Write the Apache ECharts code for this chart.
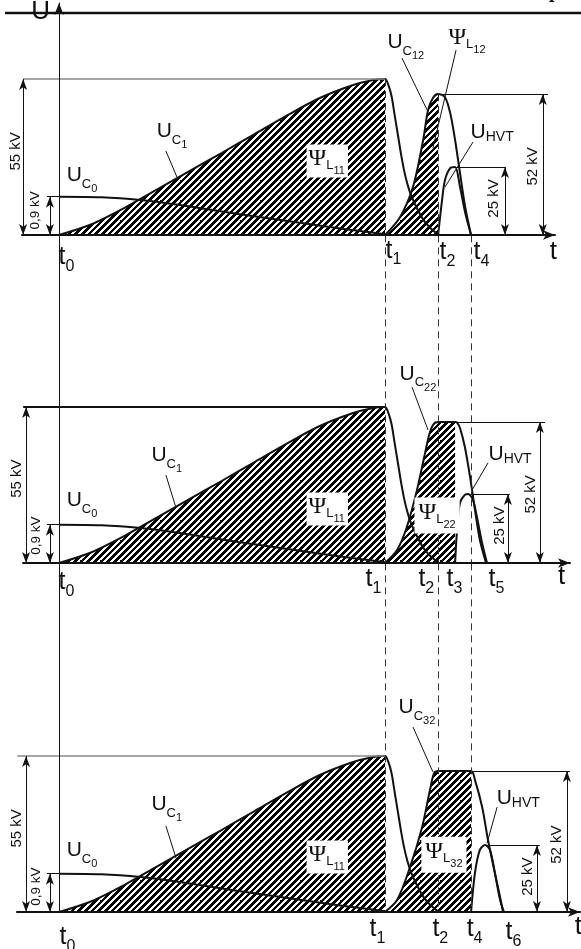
<!DOCTYPE html>
<html>
<head>
<meta charset="utf-8">
<script src="https://cdn.jsdelivr.net/npm/echarts@6/dist/echarts.min.js"></script>
<style>
  html, body { margin: 0; padding: 0; background: #fff; }
  #chart { width: 581px; height: 949px; }
</style>
</head>
<body>
<div id="chart"></div>
<script>
// time axis: t0 = 0, t1 = 10 ; voltage in drawing units (charge level 55 kV = 55)
const uC0 = [[0, 13.5], [1.3, 13.3], [2.5, 12.3], [3.7, 10.6], [4.3, 9.5], [5.5, 7.4], [6.8, 5.3], [8.3, 2.8], [9.3, 1.3], [10, 0.3]];
const uC1Rise = [[0, 0], [1, 3.8], [2, 9.5], [3, 16], [4, 22.5], [5, 29], [6, 35.6], [7, 42.2], [8, 48.3], [9, 52.8], [9.6, 54.6], [10, 55]];
const uC1Fall = [[10, 55], [10.1, 53], [10.2, 49], [10.3, 42], [10.4, 35], [10.5, 28], [10.6, 22], [10.7, 17.5], [10.8, 14], [11, 9], [11.2, 5], [11.4, 2.4], [11.65, 0]];
const uC12 = [[10, 0], [10.46, 6.3], [10.86, 17], [11.17, 33.5], [11.32, 44], [11.47, 48.3], [11.63, 49.7], [11.84, 48.6], [12, 43], [12.15, 33.5], [12.3, 21.9], [12.46, 9.9], [12.64, 0]];
const uHvt1 = [[11.63, 0], [11.75, 12.3], [11.84, 19.4], [12, 23.6], [12.15, 24], [12.3, 17], [12.46, 7.8], [12.64, 0]];
const uC22 = [[10, 0], [10.37, 4.6], [10.67, 12.7], [10.98, 25.7], [11.23, 38.8], [11.38, 46.2], [11.53, 49.4], [11.7, 49.7], [12.15, 49.7], [12.21, 49.5], [12.3, 47.6], [12.45, 40.9], [12.61, 30.3], [12.76, 18.7], [12.91, 8.1], [13.1, 0]];
const uHvt2 = [[12.15, 0], [12.21, 11.6], [12.3, 21.2], [12.45, 24], [12.55, 24.3], [12.7, 22.2], [12.82, 16.2], [12.98, 7], [13.13, 0]];
const uC32 = [[10, 0], [10.37, 4.2], [10.77, 15.9], [11.14, 30], [11.38, 43], [11.53, 49.4], [11.7, 49.7], [12.64, 49.7], [12.76, 46.5], [12.98, 37], [13.16, 25.4], [13.37, 13.8], [13.53, 5.3], [13.62, 0]];
const uHvt3 = [[12.64, 0], [12.76, 13.8], [12.91, 21.9], [13.07, 23.6], [13.22, 21.9], [13.37, 13.8], [13.53, 4.2], [13.65, 0]];

const T1 = 10;
const guideTimes = [10, 11.63, 12.64];      // dashed guides t1, t2, t4
const hatchEnds = [11.63, 12.15, 12.64];    // right edge of second flux area per panel
const chargeLevel = 55;

// page layout (pixels)
const X0 = 59, PX_T = 32.6, PX_U = 2.836;
const panels = [
  { left: 22, right: 555, top: 3, axis: 235 },
  { left: 23, right: 570, top: 235, axis: 563 },
  { left: 17, right: 580, top: 563, axis: 912 }
];

const FN = "'Liberation Sans','Arial',sans-serif";
const FS = "'Liberation Serif','DejaVu Serif',serif";
const INK = '#111';

const rich = {
  U: { fontFamily: FN, fontSize: 21, height: 22, verticalAlign: 'top', color: INK },
  c: { fontFamily: FN, fontSize: 13, height: 13, verticalAlign: 'top', padding: [13, 0, 0, 0], color: INK },
  n: { fontFamily: FN, fontSize: 11, height: 11, verticalAlign: 'top', padding: [19, 0, 0, 0], color: INK },
  h: { fontFamily: FN, fontSize: 14, height: 14, verticalAlign: 'top', padding: [9, 0, 0, 0], color: INK },
  P: { fontFamily: FS, fontSize: 24, height: 24, verticalAlign: 'top', color: INK },
  l: { fontFamily: FN, fontSize: 13, height: 13, verticalAlign: 'top', padding: [12, 0, 0, 0], color: INK },
  m: { fontFamily: FN, fontSize: 11, height: 11, verticalAlign: 'top', padding: [19, 0, 0, 0], color: INK },
  T: { fontFamily: FN, fontSize: 25, height: 26, verticalAlign: 'top', color: INK },
  k: { fontFamily: FN, fontSize: 16, height: 16, verticalAlign: 'top', padding: [14, 0, 0, 0], color: INK }
};

// diagonal hatch
const stripes = document.createElement('canvas');
stripes.width = 20; stripes.height = 20;
(function () {
  const ctx = stripes.getContext('2d');
  const img = ctx.createImageData(20, 20);
  for (let y = 0; y < 20; y++) {
    for (let x = 0; x < 20; x++) {
      const v = ((x + y) % (20 / 3)) < 3.9 ? 0 : 255;
      const i = (y * 20 + x) * 4;
      img.data[i] = img.data[i + 1] = img.data[i + 2] = v;
      img.data[i + 3] = 255;
    }
  }
  ctx.putImageData(img, 0, 0);
})();

function peak(arr) {
  let best = arr[0];
  arr.forEach(p => { if (p[1] >= best[1]) best = p; });
  return best;
}

function curve(gi, data) {
  return {
    type: 'line', xAxisIndex: gi, yAxisIndex: gi, data,
    smooth: 0.3, symbol: 'none', silent: true, z: 3,
    lineStyle: { color: INK, width: 2 }
  };
}

function hatch(gi, data, end) {
  return {
    type: 'line', xAxisIndex: gi, yAxisIndex: gi,
    data: data.filter(p => p[0] <= end + 1e-9),
    smooth: 0.3, symbol: 'none', silent: true, z: 1,
    lineStyle: { width: 0 },
    areaStyle: { color: { image: stripes, repeat: 'repeat' }, opacity: 1 }
  };
}

function txt(t, u, text, extra) {
  return {
    value: [t, u],
    label: Object.assign({
      show: true, formatter: text, position: [0, 0], align: 'left', verticalAlign: 'top', rich, color: INK, opacity: 1
    }, extra || {})
  };
}
function vtxt(t, u, text, size) {
  return txt(t, u, text, { rotate: 90, align: 'center', verticalAlign: 'middle', fontFamily: FN, fontSize: size || 15 });
}
function ctxt(t, u, text) {
  return txt(t, u, text, { align: 'center', verticalAlign: 'middle', fontFamily: FN, fontSize: 26 });
}
const boxed = { backgroundColor: '#fff', padding: [2, 3, 1, 2] };

const solid = { color: INK, width: 1, type: 'solid' };
const grey = { color: '#888', width: 1.5, type: 'solid' };
const heavy = { color: INK, width: 2, type: 'solid' };
const dashed = { color: '#333', width: 1, type: [7, 5] };

function seg(a, b, style, arrows) {
  const s = arrows ? 'arrow' : 'none';
  return [
    { coord: a, symbol: s, symbolSize: [6, 11], lineStyle: style },
    { coord: b, symbol: s, symbolSize: [6, 11] }
  ];
}

function labelSeries(gi, items, lines) {
  return {
    type: 'scatter', xAxisIndex: gi, yAxisIndex: gi, data: items,
    symbolSize: 1, itemStyle: { color: 'rgba(0,0,0,0)', opacity: 1 }, clip: false, silent: true, z: 10,
    markLine: {
      silent: true, symbol: ['none', 'none'], label: { show: false },
      emphasis: { disabled: true }, animation: false, data: lines
    }
  };
}

const uC1 = uC1Rise.concat(uC1Fall.slice(1));
const startLevel = uC0[0][1];

const secondCurves = [uC12, uC22, uC32];
const hvtCurves = [uHvt1, uHvt2, uHvt3];
const topStyles = [grey, heavy, grey];

// dimension positions (time units) per panel
const dimX = [
  { a55: -1.1, a09: -0.28, l09: -0.37, top0: -1.1, l52: 15.0, a52: 14.84, l25: 13.71, a25: 13.68 },
  { a55: -1.01, a09: -0.28, l09: -0.37, top0: -1.1, l52: 14.91, a52: 14.75, l25: 13.83, a25: 13.77 },
  { a55: -1.01, a09: -0.28, l09: -0.37, top0: -1.28, l52: 15.67, a52: 15.58, l25: 14.75, a25: 14.66 }
];

const texts = [
  [
    ctxt(-0.55, 78.5, 'U'), ctxt(15.18, -6, 't'),
    txt(0, -3.5, '{T|t}{k|0}'), txt(10.03, -1.1, '{T|t}{k|1}'),
    txt(11.69, -1.8, '{T|t}{k|2}'), txt(12.73, -1.8, '{T|t}{k|4}'),
    txt(3.01, 40.2, '{U|U}{c|C}{n|1}'), txt(0.25, 24.7, '{U|U}{c|C}{n|0}'),
    txt(7.61, 31.7, '{P|Ψ}{l|L}{m|11}', boxed),
    txt(10.09, 71.6, '{U|U}{c|C}{n|12}'), txt(11.96, 73.7, '{P|Ψ}{l|L}{m|12}'),
    txt(12.64, 39.8, '{U|U}{h|HVT}'),
    vtxt(-1.32, 29.3, '55 kV'), vtxt(-0.71, 8.5, '0,9 kV', 13.5),
    vtxt(14.54, 24, '52 kV'), vtxt(13.34, 12.7, '25 kV')
  ],
  [
    txt(0, -2.5, '{T|t}{k|0}'), txt(9.42, -1.4, '{T|t}{k|1}'),
    txt(11.04, -1.4, '{T|t}{k|2}'), txt(11.9, -1.4, '{T|t}{k|3}'),
    txt(13.19, -1.4, '{T|t}{k|5}'), ctxt(15.43, -4.9, 't'),
    txt(2.85, 41.6, '{U|U}{c|C}{n|1}'), txt(0.25, 25.7, '{U|U}{c|C}{n|0}'),
    txt(7.61, 24.7, '{P|Ψ}{l|L}{m|11}', boxed),
    txt(10.46, 70.2, '{U|U}{c|C}{n|22}'),
    txt(10.92, 22.9, '{P|Ψ}{l|L}{m|22}', { backgroundColor: '#fff', padding: [3, 4, 3, 4] }),
    txt(13.19, 42, '{U|U}{h|HVT}'),
    vtxt(-1.29, 29.6, '55 kV'), vtxt(-0.67, 9.5, '0,9 kV', 13.5),
    vtxt(14.48, 24, '52 kV'), vtxt(13.53, 13, '25 kV')
  ],
  [
    txt(0.03, -4.6, '{T|t}{k|0}'), txt(9.54, -1.8, '{T|t}{k|1}'),
    txt(11.47, -1.8, '{T|t}{k|2}'), txt(12.52, -1.8, '{T|t}{k|4}'),
    txt(13.71, -2.8, '{T|t}{k|6}'), ctxt(15.95, -5.3, 't'),
    txt(2.85, 41.6, '{U|U}{c|C}{n|1}'), txt(0.25, 25.4, '{U|U}{c|C}{n|0}'),
    txt(7.61, 25, '{P|Ψ}{l|L}{m|11}', boxed),
    txt(10.43, 75.8, '{U|U}{c|C}{n|32}'),
    txt(11.13, 26.4, '{P|Ψ}{l|L}{m|32}', { backgroundColor: '#fff', padding: [3, 4, 3, 4] }),
    txt(13.44, 44, '{U|U}{h|HVT}'),
    vtxt(-1.29, 29.3, '55 kV'), vtxt(-0.67, 8.8, '0,9 kV', 13.5),
    vtxt(15.28, 23.6, '52 kV'), vtxt(14.39, 12.3, '25 kV')
  ]
];

const leaders = [
  [[[3.28, 29.6], [3.62, 20.4]], [[10.52, 62.4], [11.29, 44.1]], [[12.18, 65.2], [11.47, 30.7]], [[12.7, 32.8], [11.84, 16.9]]],
  [[[3.28, 31], [3.59, 19.4]], [[10.83, 62], [11.32, 46.9]], [[13.16, 35.3], [12.67, 25.7]]],
  [[[3.28, 30.3], [3.59, 19]], [[10.86, 65.2], [11.47, 49.4]], [[13.44, 37], [13.13, 24.3]]]
];

const series = [];
panels.forEach((p, gi) => {
  const second = secondCurves[gi], hvt = hvtCurves[gi];
  const pk = peak(second), hp = peak(hvt);
  const d = dimX[gi];
  const ymax = (p.axis - p.top) / PX_U * 0.999;

  series.push(hatch(gi, uC1Rise, T1));
  series.push(hatch(gi, second, hatchEnds[gi]));
  series.push(curve(gi, uC0), curve(gi, uC1), curve(gi, second), curve(gi, hvt));

  const lines = [];
  lines.push(seg([d.top0, chargeLevel], [T1, chargeLevel], topStyles[gi]));
  lines.push(seg([d.a55, 0], [d.a55, chargeLevel], solid, true));
  lines.push(seg([d.l09, startLevel], [0, startLevel], solid));
  lines.push(seg([d.a09, 0], [d.a09, startLevel], solid, true));
  lines.push(seg([pk[0], pk[1]], [d.l52, pk[1]], solid));
  lines.push(seg([d.a52, 0], [d.a52, pk[1]], solid, true));
  lines.push(seg([hp[0], hp[1]], [d.l25, hp[1]], solid));
  lines.push(seg([d.a25, 0], [d.a25, hp[1]], solid, true));
  leaders[gi].forEach(l => lines.push(seg(l[0], l[1], solid)));
  if (gi === 0) {
    lines.push(seg([guideTimes[0], chargeLevel], [guideTimes[0], 0], dashed));
    lines.push(seg([guideTimes[1], pk[1]], [guideTimes[1], 0], dashed));
  } else {
    guideTimes.forEach(t => lines.push(seg([t, ymax], [t, 0], dashed)));
  }
  series.push(labelSeries(gi, texts[gi], lines));
});

const chart = echarts.init(document.getElementById('chart'), null, { renderer: 'canvas' });
chart.setOption({
  animation: false,
  backgroundColor: '#fff',
  grid: panels.map(p => ({
    left: p.left, top: p.top, width: p.right - p.left, height: p.axis - p.top,
    containLabel: false, outerBoundsMode: 'none'
  })),
  xAxis: panels.map((p, i) => ({
    type: 'value', gridIndex: i, min: (p.left - X0) / PX_T, max: (p.right - X0) / PX_T, z: 5,
    axisLine: { show: true, onZero: true, symbol: ['none', 'arrow'], symbolSize: [7, 12], lineStyle: { color: INK, width: 2 } },
    axisTick: { show: false }, axisLabel: { show: false }, splitLine: { show: false }
  })),
  yAxis: panels.map((p, i) => ({
    type: 'value', gridIndex: i, min: 0, max: (p.axis - p.top) / PX_U, z: 5,
    axisLine: { show: true, onZero: true, symbol: i === 0 ? ['none', 'arrow'] : ['none', 'none'], symbolSize: [7, 12], lineStyle: { color: INK, width: 1 } },
    axisTick: { show: false }, axisLabel: { show: false }, splitLine: { show: false }
  })),
  graphic: [
    { type: 'line', shape: { x1: 5, y1: 13, x2: 581, y2: 13 }, style: { stroke: INK, lineWidth: 2.5 }, silent: true },
    { type: 'text', x: 549, y: 2, style: { text: 'p', font: "bold 20px 'Liberation Serif', serif", fill: INK, verticalAlign: 'bottom' }, silent: true }
  ],
  series
});
</script>
</body>
</html>
